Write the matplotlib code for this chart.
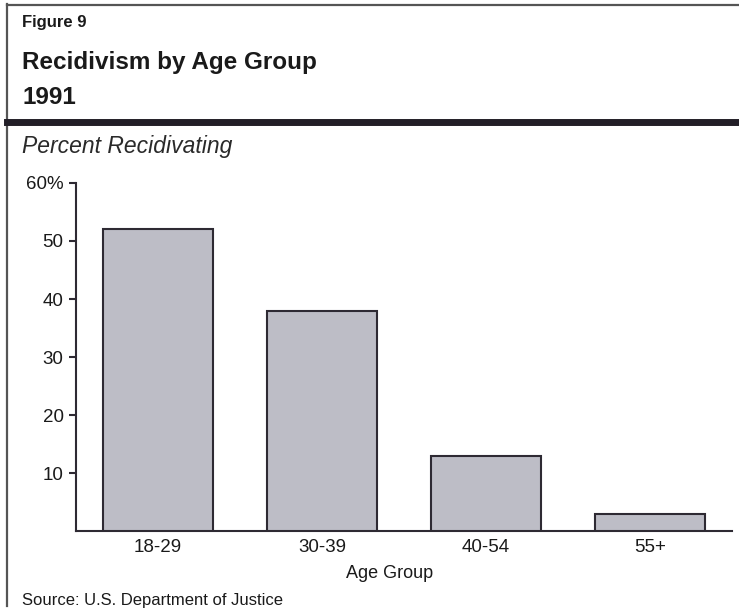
import matplotlib
matplotlib.use("Agg")
import matplotlib.pyplot as plt
from matplotlib.lines import Line2D

plt.rcParams['font.family'] = ['Liberation Sans', 'DejaVu Sans']

categories = ["18-29", "30-39", "40-54", "55+"]
values = [52, 38, 13, 3]
yticks = [10, 20, 30, 40, 50, 60]
ytick_labels = ["10", "20", "30", "40", "50", "60%"]

W, H = 739, 613
fig = plt.figure(figsize=(W / 100, H / 100), dpi=100)

def fx(px):
    return px / W

def fy(py):
    return 1 - py / H

# frame lines
fig.add_artist(Line2D([fx(7), fx(739)], [fy(5), fy(5)], color="#555555", lw=1.6))
fig.add_artist(Line2D([fx(7), fx(7)], [fy(4), fy(606)], color="#555555", lw=1.6))
fig.add_artist(Line2D([fx(7), fx(739)], [fy(121.5), fy(121.5)], color="#221e27", lw=5))

LM = 22
# titles
fig.text(fx(LM), fy(22), "Figure 9", fontsize=12, fontweight="bold", va="center", ha="left", color="#1a1a1a")
fig.text(fx(LM), fy(62), "Recidivism by Age Group", fontsize=17.5, fontweight="bold", va="center", ha="left", color="#1a1a1a")
fig.text(fx(LM), fy(97), "1991", fontsize=17.5, fontweight="bold", va="center", ha="left", color="#1a1a1a")
fig.text(fx(LM), fy(146), "Percent Recidivating", fontsize=16.5, style="italic", va="center", ha="left", color="#2a2a2a")
fig.text(fx(LM), fy(601), "Source: U.S. Department of Justice", fontsize=12, va="center", ha="left", color="#1a1a1a")

# axes
ax = fig.add_axes([fx(76), fy(531), fx(732) - fx(76), fy(183) - fy(531)])
x = range(len(categories))
ax.bar(x, values, width=0.67, color="#bdbdc6", edgecolor="#2e2a33", linewidth=1.5, zorder=3)
ax.set_xlim(-0.5, 3.5)
ax.set_ylim(0, 60)
ax.set_yticks(yticks)
ax.set_yticklabels(ytick_labels)
ax.set_xticks(list(x))
ax.set_xticklabels(categories)
for s in ["top", "right"]:
    ax.spines[s].set_visible(False)
for s in ["left", "bottom"]:
    ax.spines[s].set_color("#2e2a33")
    ax.spines[s].set_linewidth(1.5)
ax.tick_params(axis="y", direction="out", length=5, width=1.5, color="#2e2a33", labelsize=13.5, pad=4, labelcolor="#1a1a1a")
ax.tick_params(axis="x", length=0, labelsize=13.5, pad=6, labelcolor="#1a1a1a")
ax.set_facecolor("none")

# x axis title
fig.text(fx(390), fy(574), "Age Group", fontsize=13, va="center", ha="center", color="#1a1a1a")

fig.savefig("out.png", dpi=100)
